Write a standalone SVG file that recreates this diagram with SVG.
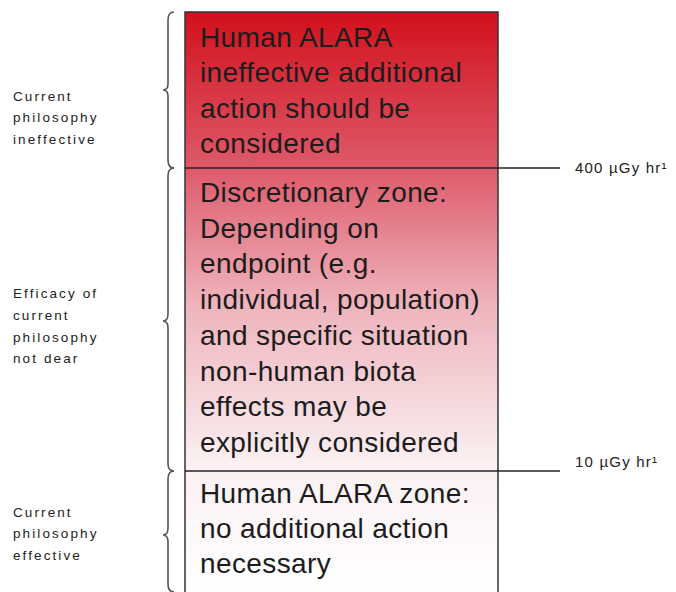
<svg xmlns="http://www.w3.org/2000/svg" width="676" height="592" viewBox="0 0 676 592">
<style>
.big{font-family:"Liberation Sans",Arial,sans-serif;font-size:28px;letter-spacing:0.4px;fill:#1c1c1c}
.side{font-family:"Liberation Sans",Arial,sans-serif;font-size:13.5px;letter-spacing:2.1px;fill:#222}
.lbl{font-family:"Liberation Sans",Arial,sans-serif;font-size:15px;letter-spacing:1.2px;fill:#222}
.brace{fill:none;stroke:#555;stroke-width:1.6}
.rule{stroke:#222;stroke-width:1.4}
</style>
<defs>
<linearGradient id="g" x1="0" y1="12" x2="0" y2="592" gradientUnits="userSpaceOnUse">
<stop offset="0" stop-color="#d2101c"/>
<stop offset="0.27" stop-color="#de5a6a"/>
<stop offset="0.5" stop-color="#eeb2bb"/>
<stop offset="0.78" stop-color="#faf0f2"/>
<stop offset="1" stop-color="#ffffff"/>
</linearGradient>
</defs>
<rect width="676" height="592" fill="#ffffff"/>
<g id="box">
<rect x="185" y="12" width="313" height="590" fill="url(#g)" stroke="#333" stroke-width="1.5"/>
</g>
<g id="connectors">
<line class="rule" x1="185" y1="168" x2="560" y2="168"/>
<line class="rule" x1="185" y1="471" x2="560" y2="471"/>
<path class="brace" d="M174,12 Q168,12 168,20 L168,84 Q168,90 163,90 Q168,90 168,96 L168,160 Q168,168 174,168"/>
<path class="brace" d="M174,168 Q168,168 168,176 L168,314 Q168,321 163,321 Q168,321 168,328 L168,464 Q168,471 174,471"/>
<path class="brace" d="M174,471 Q168,471 168,479 L168,528 Q168,535 163,535 Q168,535 168,542 L168,584 Q168,592 174,592"/>
</g>
<g id="zone-top">
<text class="big" x="200" y="47">Human ALARA</text>
<text class="big" x="200" y="82">ineffective additional</text>
<text class="big" x="200" y="118">action should be</text>
<text class="big" x="200" y="153">considered</text>
</g>
<g id="zone-middle">
<text class="big" x="200" y="202">Discretionary zone:</text>
<text class="big" x="200" y="237.7">Depending on</text>
<text class="big" x="200" y="273.4">endpoint (e.g.</text>
<text class="big" x="200" y="309">individual, population)</text>
<text class="big" x="200" y="344.8">and specific situation</text>
<text class="big" x="200" y="380.5">non-human biota</text>
<text class="big" x="200" y="416">effects may be</text>
<text class="big" x="200" y="452">explicitly considered</text>
</g>
<g id="zone-bottom">
<text class="big" x="200" y="503">Human ALARA zone:</text>
<text class="big" x="200" y="538">no additional action</text>
<text class="big" x="200" y="573">necessary</text>
</g>
<g id="label-top">
<text class="side" x="13" y="101">Current</text>
<text class="side" x="13" y="122">philosophy</text>
<text class="side" x="13" y="144">ineffective</text>
</g>
<g id="label-middle">
<text class="side" x="13" y="298">Efficacy of</text>
<text class="side" x="13" y="320">current</text>
<text class="side" x="13" y="342">philosophy</text>
<text class="side" x="13" y="363">not dear</text>
</g>
<g id="label-bottom">
<text class="side" x="13" y="517">Current</text>
<text class="side" x="13" y="538">philosophy</text>
<text class="side" x="13" y="560">effective</text>
</g>
<g id="threshold-400">
<text class="lbl" x="575" y="173">400 µGy hr¹</text>
</g>
<g id="threshold-10">
<text class="lbl" x="575" y="467">10 µGy hr¹</text>
</g>
</svg>
